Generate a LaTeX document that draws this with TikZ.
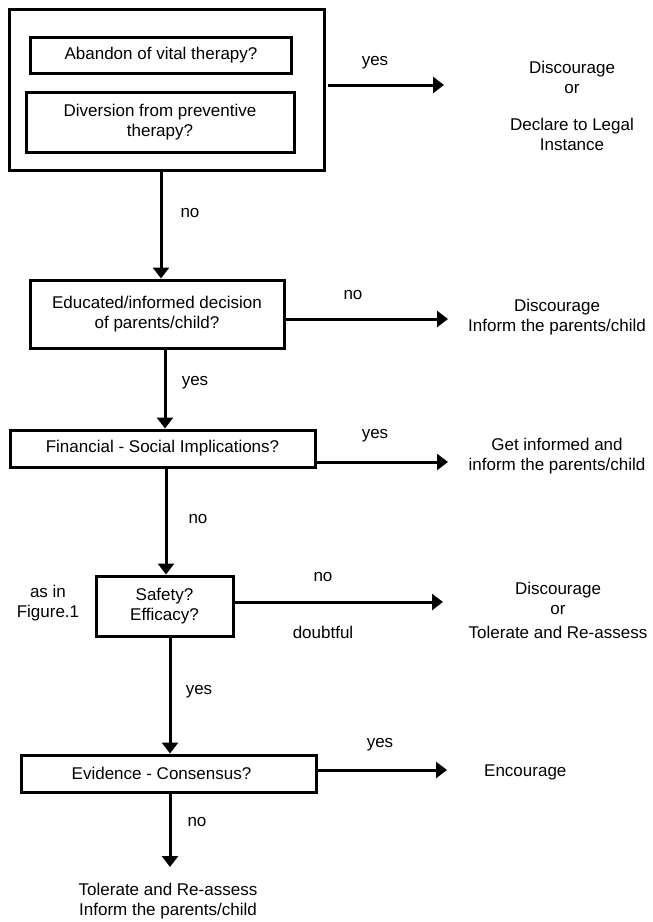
\documentclass[tikz,border=0pt]{standalone}
\usepackage{fontspec}
\setmainfont{Liberation Sans}
\usetikzlibrary{arrows.meta}
\newcommand{\fs}{\fontsize{17}{20}\selectfont}
\tikzset{
  box/.style={draw, line width=3pt, inner sep=0pt, align=center, font=\fs},
  lbl/.style={inner sep=0pt, align=center, font=\fs},
  arr/.style={line width=3pt, -{Triangle[length=11pt,width=16pt]}},
}
\begin{document}
\begin{tikzpicture}[x=1pt,y=-1pt]
\useasboundingbox (0,0) rectangle (653,922);
% top group
\node[box, minimum width=315pt, minimum height=161pt] (outer) at (166.5,89.5) {};
\node[box, minimum width=261pt, minimum height=36pt] (in1) at (161,55) {Abandon of vital therapy?};
\node[box, minimum width=268pt, minimum height=60pt] (in2) at (160,122) {Diversion from preventive\\therapy?};
\node[lbl] (r1) at (572,106) {Discourage\\or\\[17pt]Declare to Legal\\Instance};
\coordinate (s1) at (328,85);
\coordinate (e1) at (444,85);
\draw[arr] (s1) -- (e1);
\node[lbl] (y1) at (375,63) {yes};
% box 2
\node[box, minimum width=254pt, minimum height=68pt] (b2) at (157,314) {Educated/informed decision\\of parents/child?};
\draw[arr] (outer.south -| 161,0) -- (b2.north -| 161,0);
\node[lbl] (n1) at (190,213) {no};
\coordinate (e2) at (448,319);
\draw[arr] (b2.east |- e2) -- (e2);
\node[lbl] (n2) at (353,295) {no};
\node[lbl] (r2) at (557,317.5) {Discourage\\Inform the parents/child};
% box 3
\node[box, minimum width=305pt, minimum height=37pt] (b3) at (162.5,448.5) {Financial - Social Implications?};
\draw[arr] (b2.south -| 165,0) -- (b3.north -| 165,0);
\node[lbl] (y2) at (195,383) {yes};
\coordinate (e3) at (448,462);
\draw[arr] (b3.east |- e3) -- (e3);
\node[lbl] (y3) at (375,436) {yes};
\node[lbl] (r3) at (557,456.5) {Get informed and\\inform the parents/child};
% box 4
\node[box, minimum width=137pt, minimum height=60pt] (b4) at (164.5,606) {Safety?\\Efficacy?};
\draw[arr] (b3.south -| 166,0) -- (b4.north -| 166,0);
\node[lbl] (n3) at (198,519) {no};
\node[lbl] (fig) at (48,603) {as in\\Figure.1};
\coordinate (e4) at (443,602);
\draw[arr] (b4.east |- e4) -- (e4);
\node[lbl] (n4) at (323,577) {no};
\node[lbl] (dt) at (323,632) {doubtful};
\node[lbl] (r4) at (558,610) {Discourage\\or\\[4pt]Tolerate and Re-assess};
% box 5
\node[box, minimum width=295pt, minimum height=37pt] (b5) at (168.5,773.5) {\hspace*{-14pt}Evidence - Consensus?};
\draw[arr] (b4.south -| 170,0) -- (b5.north -| 170,0);
\node[lbl] (y4) at (199,692) {yes};
\coordinate (e5) at (447,770);
\draw[arr] (b5.east |- e5) -- (e5);
\node[lbl] (y5) at (380,745) {yes};
\node[lbl, anchor=west] (r5) at (484,772) {Encourage};
\coordinate (e6) at (170,867);
\draw[arr] (b5.south -| e6) -- (e6);
\node[lbl] (n5) at (197,822) {no};
\node[lbl] (r6) at (168,901) {Tolerate and Re-assess\\Inform the parents/child};
\end{tikzpicture}
\end{document}
